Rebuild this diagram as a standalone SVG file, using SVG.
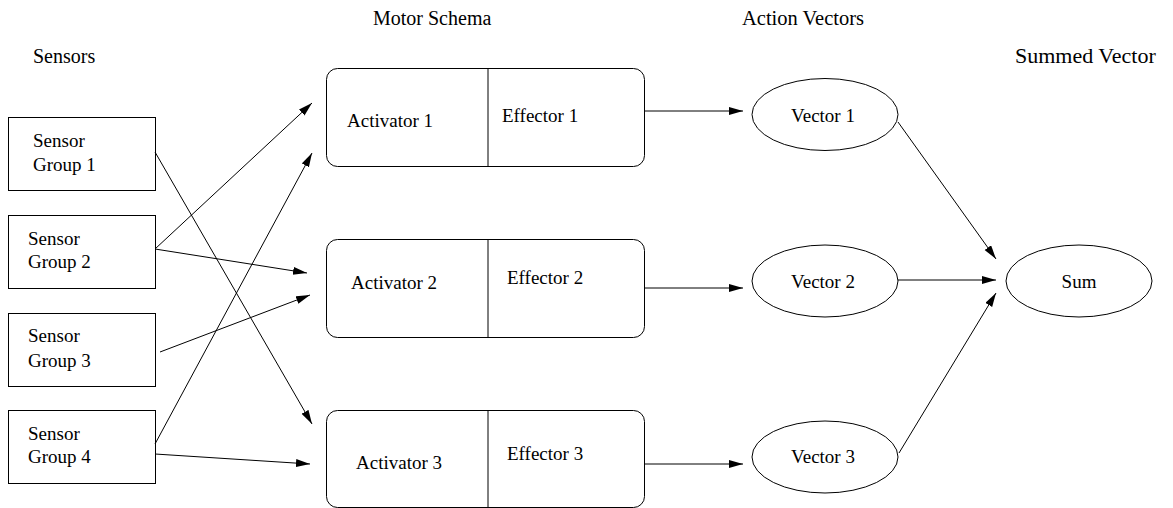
<svg xmlns="http://www.w3.org/2000/svg" width="1173" height="508" viewBox="0 0 1173 508">
<style>
text{font-family:"Liberation Serif","Times New Roman",serif;fill:#000}
.h{font-size:20px}
.t{font-size:19px}
.box{fill:#fff;stroke:#000;stroke-width:1}
.ln{fill:none;stroke:#000;stroke-width:1}
.c{stroke:#000;stroke-width:1;fill:none;marker-end:url(#ah)}
</style>
<defs>
<marker id="ah" markerUnits="userSpaceOnUse" markerWidth="16" markerHeight="10" refX="14" refY="4" orient="auto">
<path d="M0,0 L14,4 L0,8 Z" fill="#000"/>
</marker>
</defs>
<g id="headers">
<text class="h" x="33" y="63">Sensors</text>
<text class="h" x="373" y="25">Motor Schema</text>
<text class="h" x="742" y="25" style="font-size:20.5px">Action Vectors</text>
<text class="h" x="1015" y="63" style="font-size:22px">Summed Vector</text>
</g>
<g id="sensor1"><rect class="box" x="8.5" y="117.5" width="147" height="73"/><text class="t" x="33" y="147">Sensor</text><text class="t" x="33" y="171">Group 1</text></g>
<g id="sensor2"><rect class="box" x="8.5" y="215.5" width="147" height="73"/><text class="t" x="28" y="245">Sensor</text><text class="t" x="28" y="268">Group 2</text></g>
<g id="sensor3"><rect class="box" x="8.5" y="313.5" width="147" height="73"/><text class="t" x="28" y="342">Sensor</text><text class="t" x="28" y="367">Group 3</text></g>
<g id="sensor4"><rect class="box" x="8.5" y="410.5" width="147" height="73"/><text class="t" x="28" y="440">Sensor</text><text class="t" x="28" y="463">Group 4</text></g>
<g id="schema1"><rect class="box" x="326.5" y="68.5" width="318" height="98" rx="11"/><line class="ln" x1="488" y1="68.5" x2="488" y2="166.5"/><text class="t" x="347" y="127">Activator 1</text><text class="t" x="502" y="122">Effector 1</text></g>
<g id="schema2"><rect class="box" x="326.5" y="239.5" width="318" height="98" rx="11"/><line class="ln" x1="488" y1="239.5" x2="488" y2="337.5"/><text class="t" x="351" y="289">Activator 2</text><text class="t" x="507" y="284">Effector 2</text></g>
<g id="schema3"><rect class="box" x="326.5" y="410.5" width="318" height="97" rx="11"/><line class="ln" x1="488" y1="410.5" x2="488" y2="507.5"/><text class="t" x="356" y="469">Activator 3</text><text class="t" x="507" y="460">Effector 3</text></g>
<g id="vector1"><ellipse class="box" cx="825" cy="114.5" rx="73" ry="36"/><text class="t" x="823" y="122" text-anchor="middle">Vector 1</text></g>
<g id="vector2"><ellipse class="box" cx="825" cy="281" rx="73" ry="36"/><text class="t" x="823" y="288" text-anchor="middle">Vector 2</text></g>
<g id="vector3"><ellipse class="box" cx="825" cy="457" rx="73" ry="36"/><text class="t" x="823" y="463" text-anchor="middle">Vector 3</text></g>
<g id="sum"><ellipse class="box" cx="1079" cy="281" rx="73" ry="36"/><text class="t" x="1079" y="288" text-anchor="middle">Sum</text></g>
<g id="connectors">
<line class="c" x1="155" y1="152" x2="312" y2="424"/>
<line class="c" x1="155" y1="249" x2="312" y2="103"/>
<line class="c" x1="155" y1="249" x2="307" y2="273"/>
<line class="c" x1="160" y1="352" x2="310" y2="295"/>
<line class="c" x1="155" y1="444" x2="312" y2="153"/>
<line class="c" x1="155" y1="454" x2="310" y2="464"/>
<line class="c" x1="644" y1="111" x2="743" y2="111"/>
<line class="c" x1="644" y1="288" x2="743" y2="288"/>
<line class="c" x1="644" y1="464" x2="743" y2="464"/>
<line class="c" x1="898" y1="122" x2="996" y2="259"/>
<line class="c" x1="898" y1="280" x2="996" y2="280"/>
<line class="c" x1="899" y1="453" x2="996" y2="293"/>
</g>
</svg>
